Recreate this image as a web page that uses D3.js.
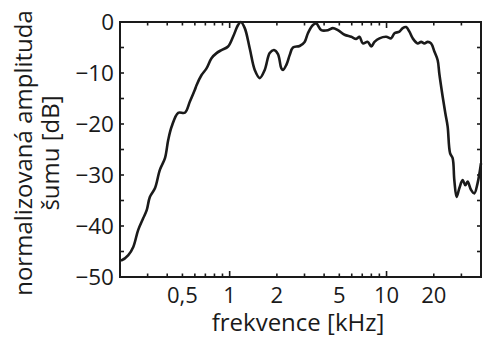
<!DOCTYPE html>
<html>
<head>
<meta charset="utf-8">
<script src="https://cdn.jsdelivr.net/npm/d3@7"></script>
<style>
  body { margin: 0; background: #fff; }
  svg text { font-family: "Open Sans", "Noto Sans", sans-serif; fill: #1a1a1a; }
</style>
</head>
<body>
<svg id="chart"></svg>
<script>
// frequency in kHz, normalised noise amplitude in dB
const freq = [0.200, 0.205, 0.226, 0.243, 0.261, 0.281, 0.296, 0.310, 0.334, 0.359,
  0.387, 0.406, 0.427, 0.470, 0.518, 0.558, 0.600, 0.615, 0.662, 0.712,
  0.766, 0.825, 0.887, 0.977, 1.051, 1.131, 1.177, 1.248, 1.343, 1.445,
  1.555, 1.673, 1.800, 1.917, 2.032, 2.136, 2.188, 2.298, 2.413, 2.532,
  2.793, 3.005, 3.154, 3.394, 3.568, 3.838, 4.229, 4.550, 4.895, 5.400,
  5.957, 6.409, 6.725, 7.060, 7.595, 7.985, 8.380, 9.016, 9.946, 10.70,
  11.23, 12.08, 12.68, 13.33, 13.99, 14.68, 15.80, 16.61, 17.43, 18.29,
  19.22, 20.18, 21.18, 21.71, 22.78, 23.70, 24.52, 25.40, 26.38, 27.04,
  27.96, 29.10, 30.54, 31.77, 32.86, 34.55, 36.26, 38.05, 40.00]
const amp = [-46.7, -46.7, -45.7, -44.1, -40.8, -38.5, -36.9, -34.3, -32.6, -29.0,
  -26.7, -23.1, -20.5, -17.8, -17.8, -15.6, -13.3, -12.4, -10.4, -9.1,
  -7.1, -6.1, -5.5, -4.8, -2.9, -0.6, 0.0, -1.2, -5.2, -9.4,
  -11.0, -9.4, -6.1, -5.5, -6.3, -9.1, -9.4, -8.4, -6.5, -5.0,
  -4.7, -3.9, -2.2, -0.6, -0.3, -1.6, -1.6, -1.2, -1.6, -2.5,
  -2.9, -3.3, -2.9, -4.2, -3.9, -4.8, -3.9, -3.2, -2.9, -3.2,
  -2.2, -1.9, -1.2, -1.0, -1.9, -3.2, -4.2, -3.9, -4.2, -3.9,
  -4.2, -5.8, -7.5, -10.2, -14.6, -17.9, -20.5, -25.7, -26.7, -31.0,
  -34.3, -32.6, -31.0, -32.0, -31.3, -32.9, -33.6, -31.6, -27.7]

const xTicks = [0.5, 1, 2, 5, 10, 20]
const xTickLabels = ["0,5", "1", "2", "5", "10", "20"]
const xMinor = [0.3, 0.4, 0.6, 0.7, 0.8, 0.9, 3, 4, 6, 7, 8, 9, 30]
const yTicks = [0, -10, -20, -30, -40, -50]
const yMinor = [-5, -15, -25, -35, -45]

const width = 483, height = 338
const margin = { left: 120, right: 2, top: 22, bottom: 61 }

var svg = d3.select("#chart")
    .attr("width", width)
    .attr("height", height)

var x = d3.scaleLog()
    .domain([0.2, 40])
    .range([margin.left, width - margin.right])

var y = d3.scaleLinear()
    .domain([-50, 0])
    .range([height - margin.bottom, margin.top])

var points = freq.map((f, i) => [f, amp[i]])

var ink = "#1a1a1a"

// tick marks, pointing inwards on all four sides
var ticks = svg.append("g").attr("stroke", ink).attr("stroke-width", 1.6)
var allX = xTicks.concat(xMinor)
allX.forEach(f => {
    let len = (f == 1 || f == 10) ? 6 : 3.5
    ticks.append("line").attr("x1", x(f)).attr("x2", x(f))
        .attr("y1", y(-50)).attr("y2", y(-50) - len)
    ticks.append("line").attr("x1", x(f)).attr("x2", x(f))
        .attr("y1", y(0)).attr("y2", y(0) + len)
})
yTicks.concat(yMinor).forEach(v => {
    ticks.append("line").attr("x1", x(0.2)).attr("x2", x(0.2) + 4)
        .attr("y1", y(v)).attr("y2", y(v))
    ticks.append("line").attr("x1", x(40)).attr("x2", x(40) - 4)
        .attr("y1", y(v)).attr("y2", y(v))
})

// curve
svg.append("path")
    .datum(points)
    .attr("fill", "none")
    .attr("stroke", ink)
    .attr("stroke-width", 2.6)
    .attr("stroke-linejoin", "round")
    .attr("d", d3.line()
        .x(d => x(d[0]))
        .y(d => y(d[1]))
        .curve(d3.curveCatmullRom.alpha(0.5)))

// frame
svg.append("rect")
    .attr("x", x(0.2)).attr("y", y(0))
    .attr("width", x(40) - x(0.2))
    .attr("height", y(-50) - y(0))
    .attr("fill", "none")
    .attr("stroke", ink)
    .attr("stroke-width", 2)

// tick labels
svg.append("g").selectAll("text")
    .data(xTicks)
    .enter().append("text")
    .attr("x", d => x(d))
    .attr("y", 303)
    .attr("text-anchor", "middle")
    .style("font-size", "22px")
    .text((d, i) => xTickLabels[i])

svg.append("g").selectAll("text")
    .data(yTicks)
    .enter().append("text")
    .attr("x", 114)
    .attr("y", d => y(d))
    .attr("dy", "0.36em")
    .attr("text-anchor", "end")
    .style("font-size", "22.5px")
    .text(d => d == 0 ? "0" : "\u2212" + Math.abs(d))

// axis titles
svg.append("text")
    .attr("x", 298)
    .attr("y", 331)
    .attr("text-anchor", "middle")
    .style("font-size", "24px")
    .text("frekvence [kHz]")

var yTitle = svg.append("text")
    .attr("transform", "translate(32,153) rotate(-90)")
    .attr("text-anchor", "middle")
    .style("font-size", "24px")
yTitle.append("tspan").attr("x", 0).attr("y", 0).text("normalizovaná amplituda")
yTitle.append("tspan").attr("x", 0).attr("y", 27).text("šumu [dB]")
</script>
</body>
</html>
